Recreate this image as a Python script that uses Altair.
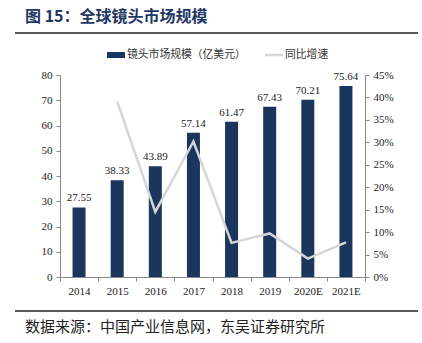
import altair as alt
import pandas as pd

years = ["2014", "2015", "2016", "2017", "2018", "2019", "2020E", "2021E"]
market = [27.55, 38.33, 43.89, 57.14, 61.47, 67.43, 70.21, 75.64]
growth = [None, 0.391, 0.145, 0.302, 0.076, 0.097, 0.041, 0.077]

df = pd.DataFrame({"year": years, "market": market, "growth": growth})

SERIF = "Liberation Serif"
CJK = "Noto Sans CJK SC"
BAR = "#1B365D"
LINE = "#D6D6D6"
AX = "#888888"

x = alt.X("year:N", sort=years, title=None,
          scale=alt.Scale(paddingInner=0, paddingOuter=0),
          axis=alt.Axis(labelAngle=0, labelFont=SERIF, labelFontSize=11, labelColor="#222",
                        domainColor=AX, tickColor=AX, tickBand="extent", tickSize=4,
                        labelPadding=4))

base = alt.Chart(df)

yleft = alt.Y("market:Q", title=None, scale=alt.Scale(domain=[0, 80]),
              axis=alt.Axis(values=[0, 10, 20, 30, 40, 50, 60, 70, 80], grid=False, labelFont=SERIF,
                            labelFontSize=11, labelColor="#222", domainColor=AX, tickColor=AX,
                            tickSize=4, labelPadding=4, labelOverlap=False))

bars = base.mark_bar(size=13, color=BAR).encode(x=x, y=yleft)
labels = base.mark_text(dy=-9, font=SERIF, fontSize=11, color="#222").encode(
    x=alt.X("year:N", sort=years),
    y=yleft,
    text=alt.Text("market:Q", format=".2f"),
)
left = alt.layer(bars, labels)

line = base.transform_filter("datum.growth != null").mark_line(color=LINE, strokeWidth=2.5).encode(
    x=alt.X("year:N", sort=years),
    y=alt.Y("growth:Q", title=None, scale=alt.Scale(domain=[0, 0.45]),
            axis=alt.Axis(orient="right", values=[0, 0.05, 0.1, 0.15, 0.2, 0.25, 0.3, 0.35, 0.4, 0.45],
                          format=".0%", grid=False, labelFont=SERIF, labelFontSize=11,
                          labelColor="#222", domainColor=AX, tickColor=AX, tickSize=4,
                          labelPadding=4, labelOverlap=False)),
)

# annotations (title, rules, legend, source)
ann = pd.DataFrame({"k": [0]})
a = alt.Chart(ann)
title = a.mark_text(text="图 15：全球镜头市场规模", font=CJK, fontSize=16, fontWeight="bold",
                    color="#1F3864", align="left", baseline="middle").encode(
    x=alt.value(-35), y=alt.value(-58))
rule_top = a.mark_rule(color="#222", strokeWidth=1.5).encode(
    x=alt.value(-45), x2=alt.value(358), y=alt.value(-42))
rule_bot = a.mark_rule(color="#222", strokeWidth=1.5).encode(
    x=alt.value(-45), x2=alt.value(358), y=alt.value(236))
source = a.mark_text(text="数据来源：中国产业信息网，东吴证券研究所", font=CJK, fontSize=15,
                     color="#222", align="left", baseline="middle").encode(
    x=alt.value(-35), y=alt.value(252))
leg_rect = a.mark_rect(color=BAR).encode(
    x=alt.value(47), x2=alt.value(65), y=alt.value(-23), y2=alt.value(-17))
leg_t1 = a.mark_text(text="镜头市场规模（亿美元）", font=CJK, fontSize=10.8, color="#333",
                     align="left", baseline="middle").encode(x=alt.value(67), y=alt.value(-20))
leg_line = a.mark_rule(color=LINE, strokeWidth=2.5).encode(
    x=alt.value(205), x2=alt.value(223), y=alt.value(-20))
leg_t2 = a.mark_text(text="同比增速", font=CJK, fontSize=10.8, color="#333",
                     align="left", baseline="middle").encode(x=alt.value(225), y=alt.value(-20))

chart = alt.layer(left, line).resolve_scale(y="independent")
chart = alt.layer(chart, title, rule_top, rule_bot, source, leg_rect, leg_t1, leg_line, leg_t2).properties(
    width=305, height=202,
    padding={"left": 60, "top": 75, "right": 57, "bottom": 66},
    autosize=alt.AutoSizeParams(type="none"),
    background="white",
).configure_view(stroke=None)

chart.save("out.html", embed_options={"renderer": "svg", "actions": False})
